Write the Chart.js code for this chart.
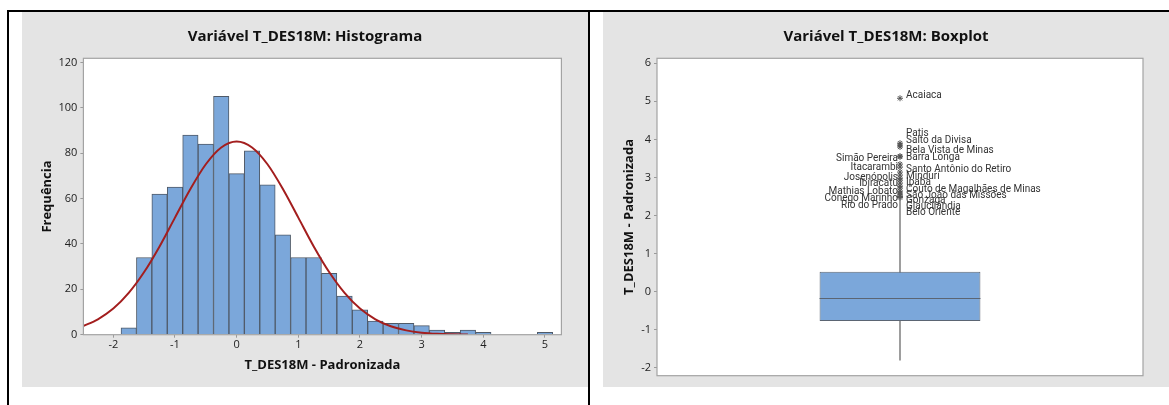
<!DOCTYPE html>
<html><head><meta charset="utf-8">
<script src="https://cdn.jsdelivr.net/npm/chart.js@4/dist/chart.umd.min.js"></script>
<style>
html,body{margin:0;padding:0;background:#fff;}
body{width:1169px;height:405px;position:relative;overflow:hidden;}
.ln{position:absolute;background:#000;}
canvas{position:absolute;background:#e4e4e4;}
</style></head><body>
<div class="ln" style="left:7px;top:10px;width:1162px;height:2px"></div>
<div class="ln" style="left:7px;top:10px;width:2px;height:395px"></div>
<div class="ln" style="left:588px;top:10px;width:2px;height:395px"></div>
<canvas id="hist" width="566" height="375" style="left:22px;top:12px"></canvas>
<canvas id="box" width="566" height="375" style="left:603px;top:12px"></canvas>
<script>
const FONT = "'Open Sans', 'Noto Sans', sans-serif";
const LABEL_FONT = "Roboto, 'Open Sans', sans-serif";

const histTitle = 'Variável T_DES18M: Histograma';
const boxTitle = 'Variável T_DES18M: Boxplot';
const xAxisTitle = 'T_DES18M - Padronizada';
const histYAxisTitle = 'Frequência';
const boxYAxisTitle = 'T_DES18M - Padronizada';

// histogram bins (centre of each bin) and counts
const binCenters = [-1.75, -1.5, -1.25, -1, -0.75, -0.5, -0.25, 0, 0.25, 0.5, 0.75, 1, 1.25, 1.5, 1.75, 2, 2.25, 2.5, 2.75, 3, 3.25, 3.5, 3.75, 4, 4.25, 4.5, 4.75, 5];
const binCounts  = [3, 34, 62, 65, 88, 84, 105, 71, 81, 66, 44, 34, 34, 27, 17, 11, 6, 5, 5, 4, 2, 1, 2, 1, 0, 0, 0, 1];

// fitted normal curve
const curveX = [-2.5, -2.25, -2, -1.75, -1.5, -1.25, -1, -0.75, -0.5, -0.25, 0, 0.25, 0.5, 0.75, 1, 1.25, 1.5, 1.75, 2, 2.25, 2.5, 2.75, 3, 3.25, 3.5, 3.75];
const curveY = [3.7, 6.8, 11.5, 18.4, 27.6, 38.9, 51.6, 64.2, 75.1, 82.5, 85.1, 82.5, 75.1, 64.2, 51.6, 38.9, 27.6, 18.4, 11.5, 6.8, 3.7, 1.9, 0.9, 0.4, 0.2, 0.1];

const histXTicks = [-2, -1, 0, 1, 2, 3, 4, 5];
const histYTicks = [0, 20, 40, 60, 80, 100, 120];
const boxYTicks  = [-2, -1, 0, 1, 2, 3, 4, 5, 6];

// boxplot statistics
const boxCategory = ['T_DES18M'];
const whiskerLow = -1.8;
const q1 = -0.77;
const median = -0.18;
const q3 = 0.52;
const whiskerHigh = 2.42;

// outliers
const outlierNames = ['Acaiaca', 'Patis', 'Salto da Divisa', 'Bela Vista de Minas', 'Barra Longa', 'Simão Pereira', 'Itacarambi', 'Santo Antônio do Retiro', 'Josenópolis', 'Mindurí', 'Ibiracatu', 'Ipaba', 'Couto de Magalhães de Minas', 'Mathias Lobato', 'São João das Missões', 'Cônego Marinho', 'Gonzaga', 'Rio do Prado', 'Glaucilândia', 'Belo Oriente'];
const outlierValues = [5.08, 3.90, 3.85, 3.80, 3.56, 3.54, 3.35, 3.27, 3.14, 3.06, 2.98, 2.93, 2.85, 2.77, 2.72, 2.64, 2.59, 2.54, 2.50, 2.47];
const labelValues   = [5.14, 4.16, 3.97, 3.71, 3.52, 3.51, 3.27, 3.20, 3.01, 3.02, 2.83, 2.86, 2.68, 2.64, 2.52, 2.45, 2.40, 2.25, 2.23, 2.07];
const labelSides    = ['R', 'R', 'R', 'R', 'R', 'L', 'L', 'R', 'L', 'R', 'L', 'R', 'R', 'L', 'R', 'L', 'R', 'L', 'R', 'R'];

const plotFrame = {
  id: 'plotFrame',
  beforeDraw(chart) {
    const a = chart.chartArea, ctx = chart.ctx;
    ctx.save();
    ctx.fillStyle = '#ffffff';
    ctx.fillRect(a.left, a.top, a.right - a.left, a.bottom - a.top);
    ctx.restore();
  },
  afterDraw(chart) {
    const a = chart.chartArea, ctx = chart.ctx;
    ctx.save();
    ctx.strokeStyle = '#a3a3a3';
    ctx.lineWidth = 1.2;
    ctx.strokeRect(a.left, a.top, a.right - a.left, a.bottom - a.top);
    ctx.restore();
  }
};

const medianLine = {
  id: 'medianLine',
  afterDatasetsDraw(chart) {
    const bar = chart.getDatasetMeta(1).data[0];
    if (!bar) return;
    const ctx = chart.ctx, ys = chart.scales.y;
    const py = Math.round(ys.getPixelForValue(median)) + 0.5;
    ctx.save();
    ctx.strokeStyle = '#5b6573';
    ctx.lineWidth = 1;
    ctx.beginPath();
    ctx.moveTo(bar.x - bar.width / 2, py);
    ctx.lineTo(bar.x + bar.width / 2, py);
    ctx.stroke();
    ctx.restore();
  }
};

const outlierLabels = {
  id: 'outlierLabels',
  afterDatasetsDraw(chart) {
    const ctx = chart.ctx, xs = chart.scales.x, ys = chart.scales.y;
    const cx = xs.getPixelForValue(0);
    ctx.save();
    ctx.font = '10px ' + LABEL_FONT;
    ctx.fillStyle = '#333';
    ctx.textBaseline = 'middle';
    outlierNames.forEach((name, i) => {
      const py = ys.getPixelForValue(labelValues[i]);
      if (labelSides[i] === 'L') { ctx.textAlign = 'right'; ctx.fillText(name, cx - 2, py); }
      else { ctx.textAlign = 'left'; ctx.fillText(name, cx + 6, py); }
    });
    ctx.restore();
  }
};

const tickFont = { family: FONT, size: 11 };
const titleFont = { family: FONT, size: 15, weight: 'bold' };
const axisTitleFont = { family: FONT, size: 13, weight: 'bold' };

function padAxis(w) {
  return { type: 'linear', position: 'right', display: true, ticks: { display: false }, grid: { display: false }, border: { display: false }, afterFit: s => { s.width = w; } };
}

new Chart(document.getElementById('hist'), {
  type: 'bar',
  data: {
    datasets: [
      { type: 'line', data: curveX.map((x, i) => ({ x: x, y: curveY[i] })), borderColor: '#a31e1e', borderWidth: 2, pointRadius: 0, tension: 0.4, cubicInterpolationMode: 'monotone', fill: false },
      { type: 'bar', data: binCenters.map((x, i) => ({ x: x, y: binCounts[i] })), backgroundColor: '#7ba7da', borderColor: '#4f5a68', borderWidth: { top: 1, left: 1, right: 1, bottom: 0 }, borderSkipped: false, barPercentage: 1, categoryPercentage: 1 }
    ]
  },
  options: {
    responsive: false, animation: false, devicePixelRatio: 1,
    layout: { padding: 0 },
    plugins: {
      legend: { display: false }, tooltip: { enabled: false },
      title: { display: true, text: histTitle, font: titleFont, color: '#111', padding: { top: 16, bottom: 12.3 } }
    },
    scales: {
      x: {
        type: 'linear', min: -2.485, max: 5.266, offset: false,
        afterBuildTicks: s => { s.ticks = histXTicks.map(v => ({ value: v })); },
        ticks: { font: tickFont, color: '#222', padding: 1, maxRotation: 0, autoSkip: false },
        grid: { offset: false, drawOnChartArea: false, drawTicks: true, tickLength: 3, color: '#9a9a9a' },
        border: { display: false },
        title: { display: true, text: xAxisTitle, font: axisTitleFont, color: '#111', padding: { top: 0, bottom: 13.5 } },
        afterFit: s => { s.height = 52.3; }
      },
      y: {
        type: 'linear', min: 0, max: 121.8,
        afterBuildTicks: s => { s.ticks = histYTicks.map(v => ({ value: v })); },
        ticks: { font: tickFont, color: '#222', padding: 3 },
        grid: { drawOnChartArea: false, drawTicks: true, tickLength: 3, color: '#9a9a9a' },
        border: { display: false },
        title: { display: true, text: histYAxisTitle, font: axisTitleFont, color: '#111', padding: { top: 17.2, bottom: 0 } },
        afterFit: s => { s.width = 61.4; }
      },
      pad: padAxis(26.6)
    }
  },
  plugins: [plotFrame]
});

new Chart(document.getElementById('box'), {
  type: 'bar',
  data: {
    labels: boxCategory,
    datasets: [
      { type: 'line', data: outlierValues.map(v => ({ x: boxCategory[0], y: v })), showLine: false, pointStyle: 'star', pointRadius: 3, borderColor: '#555', backgroundColor: '#555', borderWidth: 1 },
      { data: [[q1, q3]], backgroundColor: '#7ba7da', borderColor: '#5b6573', borderWidth: 1, borderSkipped: false, barPercentage: 0.331, categoryPercentage: 1, grouped: false },
      { data: [[whiskerLow, whiskerHigh]], backgroundColor: '#8a8a8a', borderWidth: 0, barThickness: 1, grouped: false }
    ]
  },
  options: {
    responsive: false, animation: false, devicePixelRatio: 1,
    layout: { padding: { top: 0, left: 0, right: 0, bottom: 11.3 } },
    plugins: {
      legend: { display: false }, tooltip: { enabled: false },
      title: { display: true, text: boxTitle, font: titleFont, color: '#111', padding: { top: 16, bottom: 12.3 } }
    },
    scales: {
      x: { display: false },
      y: {
        type: 'linear', min: -2.21, max: 6.13,
        afterBuildTicks: s => { s.ticks = boxYTicks.map(v => ({ value: v })); },
        ticks: { font: tickFont, color: '#222', padding: 3 },
        grid: { drawOnChartArea: false, drawTicks: true, tickLength: 3, color: '#9a9a9a' },
        border: { display: false },
        title: { display: true, text: boxYAxisTitle, font: axisTitleFont, color: '#111', padding: { top: 18.3, bottom: 0 } },
        afterFit: s => { s.width = 54; }
      },
      pad: padAxis(26)
    }
  },
  plugins: [plotFrame, medianLine, outlierLabels]
});
</script></body></html>
